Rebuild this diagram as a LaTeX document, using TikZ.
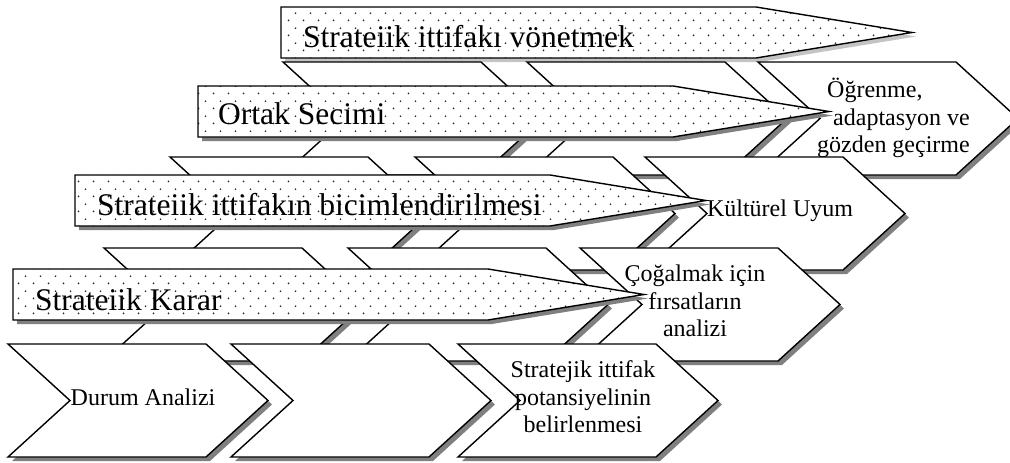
\documentclass[tikz,border=0pt]{standalone}
\usepackage{fontspec}
\setmainfont{Liberation Serif}
\usetikzlibrary{patterns}
\definecolor{shadowgray}{HTML}{808080}
\definecolor{shadowlight}{HTML}{C4C4C4}
\pgfdeclarepatternformonly{bdots}{\pgfqpoint{0pt}{0pt}}{\pgfqpoint{15pt}{14.6pt}}{\pgfqpoint{15pt}{14.6pt}}{%
  \pgfpathcircle{\pgfqpoint{3.75pt}{3.65pt}}{0.95pt}%
  \pgfpathcircle{\pgfqpoint{11.25pt}{10.95pt}}{0.95pt}%
  \pgfusepath{fill}}

\begin{document}
\begin{tikzpicture}[x=1pt,y=-1pt,
      chevline/.style={draw=black,line width=1.4pt,fill=white},
      shadowfill/.style={fill=shadowgray},
      bannerline/.style={draw=black,line width=1.4pt,preaction={fill=white},
                         pattern=bdots,pattern color=black!85},
      lbl/.style={font=\fontsize{24}{27.6}\selectfont,inner sep=0pt},
      ttl/.style={font=\fontsize{31.5}{36}\selectfont,inner sep=0pt,anchor=base west},
      chevron/.pic={
        \fill[shadowfill] (4,4) -- (202,4) -- (264,60.5) -- (202,117) -- (4,117) -- (66,60.5) -- cycle;
        \draw[chevline] (0,0) -- (198,0) -- (260,56.5) -- (198,113) -- (0,113) -- (62,56.5) -- cycle;},
      banner/.pic={
        \fill[shadowfill] (4,4) -- (479,4) -- (635,29.5) -- (479,55) -- (4,55) -- cycle;
        \draw[bannerline] (0,0) -- (475,0) -- (631,25.5) -- (475,51) -- (0,51) -- cycle;}]
    \clip (0,0) rectangle (1010,463);
    %% ── Level 4 (top, drawn first) ───────────────────────────
    \pic[shadowfill/.style={fill=shadowlight}] at (281,7) {banner};
    \node[ttl] (yonet) at (303,47) {Strateiik ittifakı vönetmek};
    \pic at (283,62) {chevron};
    \pic at (527,62) {chevron};
    \pic at (758,62) {chevron};
    \node[lbl,align=left,anchor=west] (ogren) at (817,118)
      {\hspace*{10pt}Öğrenme,\\\hspace*{16pt}adaptasyon ve\\gözden geçirme};
    %% ── Level 3 ──────────────────────────────────────────────
    \pic at (198,86) {banner};
    \node[ttl] (ortak) at (218,124) {Ortak Secimi};
    \pic at (170,157) {chevron};
    \pic at (415,157) {chevron};
    \pic at (645,157) {chevron};
    \node[lbl] (uyum) at (780,211) {Kültürel Uyum};
    %% ── Level 2 ──────────────────────────────────────────────
    \pic at (75,175) {banner};
    \node[ttl] (bicim) at (97,215) {Strateiik ittifakın bicimlendirilmesi};
    \pic at (104,248) {chevron};
    \pic at (348,248) {chevron};
    \pic at (580,248) {chevron};
    \node[lbl,align=center] (firsat) at (695,301) {Çoğalmak için\\fırsatların\\analizi};
    %% ── Level 1 (bottom, drawn last) ─────────────────────────
    \pic at (13,269) {banner};
    \node[ttl] (karar) at (35,310) {Strateiik Karar};
    \pic at (8,344) {chevron};
    \pic at (231,344) {chevron};
    \pic at (458,344) {chevron};
    \node[lbl] (durum) at (143,397) {Durum Analizi};
    \node[lbl,align=center] (potans) at (583,397) {Stratejik ittifak\\potansiyelinin\\belirlenmesi};
  \end{tikzpicture}
\end{document}
